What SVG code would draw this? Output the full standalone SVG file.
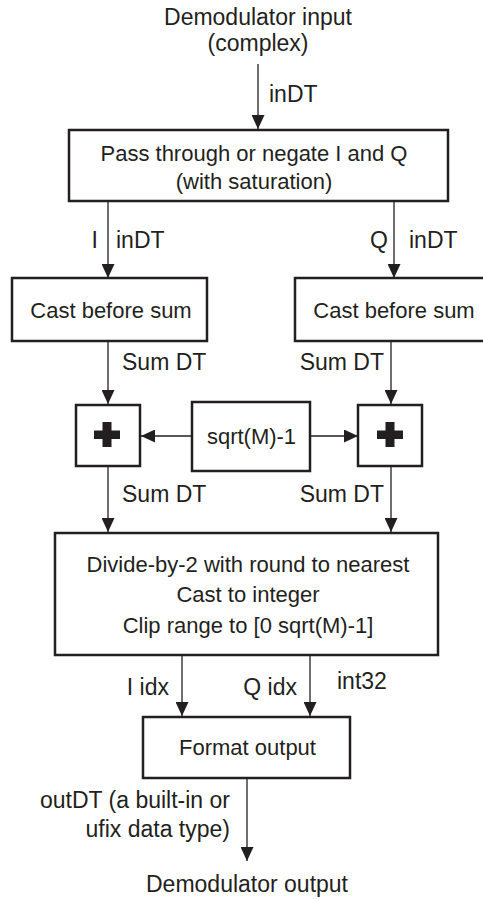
<svg xmlns="http://www.w3.org/2000/svg" width="483" height="899" viewBox="0 0 483 899">
<style>
  .lbl { font-family: "Liberation Sans", Arial, sans-serif; font-size: 23px; fill: #231f20; }
  .box { fill: #ffffff; stroke: #231f20; stroke-width: 2.5; }
  .btxt { font-family: "Liberation Sans", Arial, sans-serif; font-size: 22px; fill: #231f20; text-anchor: middle; }
  .ln { stroke: #231f20; stroke-width: 1.3; fill: none; marker-end: url(#ah); }
  .plus { fill: #231f20; }
</style>
<defs>
  <marker id="ah" markerUnits="userSpaceOnUse" markerWidth="14" markerHeight="13" refX="14" refY="6.5" orient="auto">
    <path d="M0,0 L14,6.5 L0,13 z" fill="#231f20"/>
  </marker>
</defs>
<rect width="483" height="899" fill="#ffffff"/>

<g id="input">
  <text class="lbl" x="258" y="25" text-anchor="middle">Demodulator input</text>
  <text class="lbl" x="258" y="51" text-anchor="middle">(complex)</text>
</g>

<g id="connectors">
  <line class="ln" x1="258" y1="64" x2="258" y2="129"/>
  <line class="ln" x1="108" y1="201" x2="108" y2="278"/>
  <line class="ln" x1="394" y1="201" x2="394" y2="278"/>
  <line class="ln" x1="108" y1="341" x2="108" y2="404"/>
  <line class="ln" x1="391" y1="341" x2="391" y2="404"/>
  <line class="ln" x1="192" y1="436" x2="141" y2="436"/>
  <line class="ln" x1="310" y1="436" x2="358" y2="436"/>
  <line class="ln" x1="108" y1="466" x2="108" y2="532"/>
  <line class="ln" x1="391" y1="466" x2="391" y2="532"/>
  <line class="ln" x1="182" y1="655" x2="182" y2="716"/>
  <line class="ln" x1="310" y1="655" x2="310" y2="716"/>
  <line class="ln" x1="247" y1="778" x2="247" y2="861"/>
  <text class="lbl" x="269" y="102">inDT</text>
  <text class="lbl" x="98" y="248" text-anchor="end">I</text>
  <text class="lbl" x="116" y="248">inDT</text>
  <text class="lbl" x="388" y="248" text-anchor="end">Q</text>
  <text class="lbl" x="409" y="248">inDT</text>
  <text class="lbl" x="122" y="370">Sum DT</text>
  <text class="lbl" x="384" y="370" text-anchor="end">Sum DT</text>
  <text class="lbl" x="122" y="502">Sum DT</text>
  <text class="lbl" x="384" y="502" text-anchor="end">Sum DT</text>
  <text class="lbl" x="169" y="695" text-anchor="end">I idx</text>
  <text class="lbl" x="297" y="695" text-anchor="end">Q idx</text>
  <text class="lbl" x="337" y="689">int32</text>
  <text class="lbl" x="230" y="808" text-anchor="end">outDT (a built-in or</text>
  <text class="lbl" x="230" y="837" text-anchor="end">ufix data type)</text>
</g>

<g id="negate">
  <rect class="box" x="69" y="130" width="379" height="71"/>
  <text class="btxt" x="254" y="161">Pass through or negate I and Q</text>
  <text class="btxt" x="254" y="189">(with saturation)</text>
</g>

<g id="castI">
  <rect class="box" x="12" y="278" width="195" height="63"/>
  <text class="btxt" x="111" y="318">Cast before sum</text>
</g>

<g id="castQ">
  <rect class="box" x="295" y="278" width="195" height="63"/>
  <text class="btxt" x="394" y="318">Cast before sum</text>
</g>

<g id="sumI">
  <rect class="box" x="76" y="405" width="64" height="61"/>
  <rect class="plus" x="94" y="430.5" width="26" height="8.5"/>
  <rect class="plus" x="102.5" y="422" width="9" height="25"/>
</g>

<g id="offset">
  <rect class="box" x="192" y="402" width="118" height="69"/>
  <text class="btxt" x="251.5" y="444">sqrt(M)-1</text>
</g>

<g id="sumQ">
  <rect class="box" x="358" y="405" width="64" height="61"/>
  <rect class="plus" x="377" y="430.5" width="26" height="8.5"/>
  <rect class="plus" x="385.5" y="422" width="9" height="25"/>
</g>

<g id="divide">
  <rect class="box" x="55" y="533" width="383" height="122"/>
  <text class="btxt" x="248" y="572">Divide-by-2 with round to nearest</text>
  <text class="btxt" x="248" y="602">Cast to integer</text>
  <text class="btxt" x="248" y="633">Clip range to [0 sqrt(M)-1]</text>
</g>

<g id="format">
  <rect class="box" x="143" y="717" width="207" height="61"/>
  <text class="btxt" x="247.5" y="755">Format output</text>
</g>

<g id="output">
  <text class="lbl" x="247" y="892" text-anchor="middle">Demodulator output</text>
</g>
</svg>
